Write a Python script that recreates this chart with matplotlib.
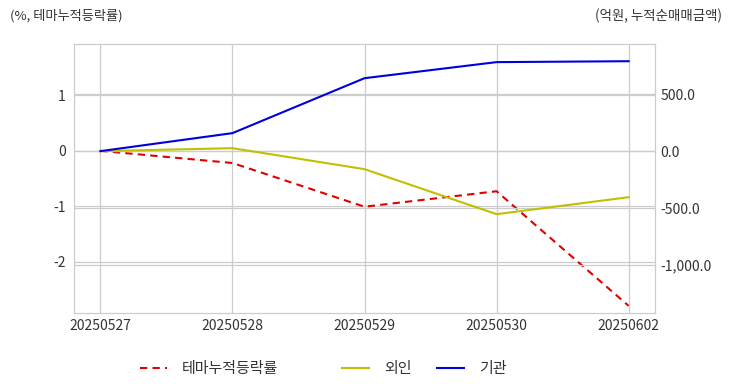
import matplotlib
matplotlib.use("Agg")
import matplotlib.pyplot as plt
from matplotlib.ticker import FuncFormatter

plt.rcParams['font.family'] = ['Noto Sans CJK KR', 'DejaVu Sans']
plt.rcParams['axes.unicode_minus'] = False

dates = ["20250527", "20250528", "20250529", "20250530", "20250602"]
theme_rate = [0.0, -0.22, -1.01, -0.73, -2.80]
foreign = [0.0, 26, -158, -553, -404]
inst = [0.0, 158, 640, 781, 789]

fig = plt.figure(figsize=(7.32, 3.92), dpi=100)
ax = fig.add_axes([74 / 732, 1 - 313 / 392, (655 - 74) / 732, (313 - 44) / 392])
ax2 = ax.twinx()

x = list(range(len(dates)))
l1, = ax.plot(x, theme_rate, color='#e00000', linestyle='--', linewidth=1.5, dashes=(3.5, 2.5), label='테마누적등락률')
l2, = ax2.plot(x, foreign, color='#c0c000', linewidth=1.5, label='외인')
l3, = ax2.plot(x, inst, color='#0000dd', linewidth=1.5, label='기관')

ax.set_xlim(-0.2, 4.2)
ax.set_ylim(-2.93, 1.93)
ax2.set_ylim(-1420, 940)
ax.set_yticks([-2, -1, 0, 1])
ax2.set_yticks([-1000, -500, 0, 500])
ax2.yaxis.set_major_formatter(FuncFormatter(lambda v, p: "{:,.1f}".format(v)))
ax.set_xticks(x)
ax.set_xticklabels(dates)

for a in (ax, ax2):
    a.tick_params(length=0, labelsize=10, colors='#333333')
    for s in a.spines.values():
        s.set_color('#cccccc')
ax.tick_params(axis='y', pad=6)
ax2.tick_params(axis='y', pad=4)
ax.tick_params(axis='x', pad=4)

ax.grid(True, color='#cccccc', linewidth=0.9)
ax2.grid(True, axis='y', color='#cccccc', linewidth=0.9)
ax.set_axisbelow(True)
ax2.set_axisbelow(True)

fig.text(10 / 732, 1 - 16 / 392, "(%, 테마누적등락률)", fontsize=9.5, color='#333333', va='center', ha='left')
fig.text(722 / 732, 1 - 16 / 392, "(억원, 누적순매매금액)", fontsize=9.7, color='#333333', va='center', ha='right')

# legend items placed one by one, spacing in the reference is uneven
for handle, xpos in ((l1, 134), (l2, 336), (l3, 431)):
    fig.legend(handles=[handle], loc='center left', bbox_to_anchor=(xpos / 732, 1 - 369 / 392),
               frameon=False, fontsize=10.8, handlelength=1.8, handletextpad=1.0,
               labelcolor='#333333', borderaxespad=0, borderpad=0.4)

fig.savefig("out.png", dpi=100)
